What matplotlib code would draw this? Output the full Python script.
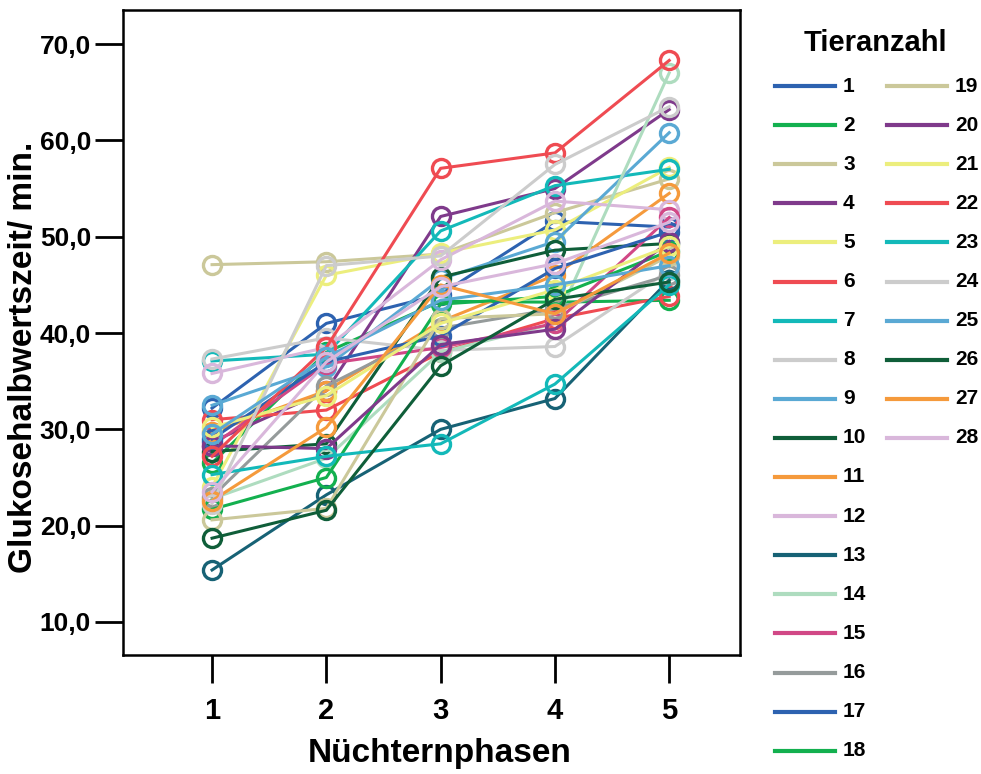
import matplotlib
matplotlib.use('Agg')
import matplotlib.pyplot as plt
from matplotlib.lines import Line2D

plt.rcParams['font.family'] = ['Liberation Sans', 'DejaVu Sans']
plt.rcParams['font.weight'] = 'bold'

# Nüchternphasen 1..5, eine Reihe pro Tier
phasen = [1, 2, 3, 4, 5]
tiere = [str(i) for i in range(1, 29)]

werte = {
    '1':  [32.2, 41.0, 44.0, 51.6, 51.0],
    '2':  [26.5, 38.0, 43.3, 43.2, 43.4],
    '3':  [47.1, 47.4, 48.2, 52.5, 56.0],
    '4':  [28.7, 34.0, 52.1, 55.0, 63.2],
    '5':  [24.0, 46.0, 48.3, 50.7, 57.2],
    '6':  [31.0, 32.0, 38.0, 41.5, 43.8],
    '7':  [37.1, 37.8, 50.6, 55.3, 57.0],
    '8':  [37.3, 39.5, 38.2, 38.6, 46.5],
    '9':  [32.5, 36.5, 45.6, 49.5, 60.8],
    '10': [27.7, 28.5, 45.8, 48.6, 49.3],
    '11': [29.7, 34.0, 41.2, 46.0, 54.5],
    '12': [35.8, 38.5, 47.6, 53.7, 52.8],
    '13': [15.4, 23.2, 30.0, 33.2, 45.5],
    '14': [22.8, 27.0, 38.0, 41.0, 67.0],
    '15': [28.3, 36.8, 38.5, 41.0, 52.0],
    '16': [23.0, 34.5, 40.5, 42.5, 46.0],
    '17': [29.0, 37.0, 39.7, 46.7, 50.5],
    '18': [21.7, 25.0, 43.0, 43.8, 48.5],
    '19': [20.6, 21.8, 41.5, 42.0, 48.0],
    '20': [28.3, 28.0, 38.8, 40.4, 49.5],
    '21': [30.2, 33.5, 41.0, 44.5, 49.0],
    '22': [27.2, 38.5, 57.1, 58.7, 68.3],
    '23': [25.3, 27.2, 28.5, 34.7, 45.0],
    '24': [22.3, 47.0, 48.0, 57.5, 63.5],
    '25': [29.5, 37.5, 43.4, 45.0, 47.0],
    '26': [18.7, 21.6, 36.6, 43.5, 45.3],
    '27': [22.6, 30.2, 45.0, 42.0, 48.3],
    '28': [23.5, 37.0, 44.8, 47.2, 51.5],
}

# SPSS-Farbfolge, wiederholt sich ab Tier 17
farben16 = ['#2d62b0', '#13b04f', '#cbc89a', '#7f3a8b', '#ecee7d', '#ef4b52',
            '#13b9b9', '#cccccc', '#5aa9d4', '#0f5e39', '#f59a3c', '#d9b7db',
            '#176275', '#aedcbf', '#d14886', '#959b9b']

W, H = 981, 774
fig = plt.figure(figsize=(W / 100, H / 100), dpi=100)
ax = fig.add_axes([0.1254, 0.1537, 0.629, 0.8333])

for i, t in enumerate(tiere):
    c = farben16[i % 16]
    ax.plot(phasen, werte[t], color=c, lw=2.2, marker='o', ms=13,
            mfc='none', mec=c, mew=2.4)

ax.set_xlim(0.221, 5.62)
ax.set_ylim(6.57, 73.53)
ax.set_xticks(phasen)
ax.set_yticks([10, 20, 30, 40, 50, 60, 70])
ax.set_yticklabels(['10,0', '20,0', '30,0', '40,0', '50,0', '60,0', '70,0'])
ax.tick_params(axis='y', direction='out', length=20, width=2, labelsize=19, pad=3)
ax.tick_params(axis='x', direction='out', length=20, width=2, labelsize=21, pad=10)
for s in ax.spines.values():
    s.set_linewidth(1.8)
ax.set_xlabel('Nüchternphasen', fontsize=24, fontweight='bold')
ax.set_ylabel('Glukosehalbwertszeit/ min.', fontsize=24, fontweight='bold')
ax.xaxis.set_label_coords(0.514, -0.128)
ax.yaxis.set_label_coords(-0.136, 0.462)


def fx(px):
    return px / W


def fy(py):
    return 1 - py / H


# Legende: 18 Einträge links, 10 rechts, Abstand 39 px
fig.text(fx(875), fy(43), 'Tieranzahl', fontsize=21, fontweight='bold',
         ha='center', va='center')
for i, t in enumerate(tiere):
    c = farben16[i % 16]
    spalte, zeile = (0, i) if i < 18 else (1, i - 18)
    y = fy(86 + zeile * 39.1)
    x0 = 775 if spalte == 0 else 887
    fig.add_artist(Line2D([fx(x0), fx(x0 + 60)], [y, y], color=c, lw=3.0,
                          transform=fig.transFigure))
    fig.text(fx(x0 + 68), y, t, fontsize=15, fontweight='bold', va='center', ha='left')

fig.savefig('out.png', dpi=100)
